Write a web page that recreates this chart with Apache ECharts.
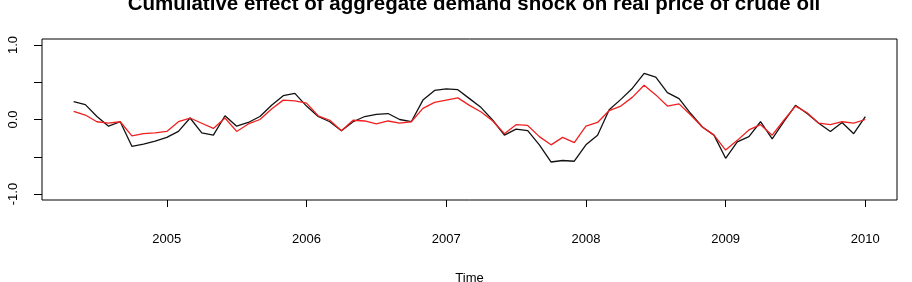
<!DOCTYPE html>
<html>
<head>
<meta charset="utf-8">
<script src="https://cdn.jsdelivr.net/npm/echarts@6/dist/echarts.min.js"></script>
<style>
  html, body { margin: 0; padding: 0; background: #fff; }
  #chart { width: 912px; height: 282px; }
</style>
</head>
<body>
<div id="chart"></div>
<script>
// monthly series, May 2004 .. Jan 2010
const startYear = 2004
const startMonth = 5
const blackData = [
  0.24, 0.20, 0.04, -0.09, -0.03, -0.36, -0.33, -0.29, -0.24, -0.16, 0.02, -0.18,
  -0.21, 0.05, -0.09, -0.04, 0.04, 0.19, 0.32, 0.35, 0.18, 0.04, -0.03, -0.15,
  -0.03, 0.04, 0.07, 0.08, 0.00, -0.03, 0.26, 0.39, 0.41, 0.40, 0.28, 0.16,
  -0.01, -0.21, -0.13, -0.15, -0.34, -0.57, -0.55, -0.56, -0.34, -0.21, 0.13, 0.27,
  0.42, 0.62, 0.57, 0.36, 0.28, 0.08, -0.10, -0.21, -0.52, -0.30, -0.23, -0.03,
  -0.26, -0.03, 0.19, 0.08, -0.05, -0.16, -0.04, -0.19, 0.04
]
const redData = [
  0.11, 0.06, -0.03, -0.05, -0.03, -0.22, -0.19, -0.18, -0.16, -0.03, 0.02, -0.05,
  -0.12, 0.02, -0.16, -0.06, 0.00, 0.14, 0.26, 0.25, 0.22, 0.05, -0.01, -0.15,
  -0.01, -0.02, -0.06, -0.02, -0.05, -0.03, 0.15, 0.23, 0.26, 0.29, 0.19, 0.10,
  -0.02, -0.19, -0.07, -0.08, -0.23, -0.34, -0.24, -0.31, -0.09, -0.04, 0.12, 0.18,
  0.30, 0.46, 0.33, 0.18, 0.21, 0.06, -0.10, -0.21, -0.41, -0.28, -0.14, -0.07,
  -0.21, -0.01, 0.18, 0.09, -0.05, -0.07, -0.03, -0.05, 0.00
]
const xTicks = [2005, 2006, 2007, 2008, 2009, 2010]
const yTicks = [-1, -0.5, 0, 0.5, 1]
const yLabels = [-1, 0, 1]

const timeAt = (i) => startYear + (startMonth - 1 + i) / 12
const blackPts = blackData.map((v, i) => [timeAt(i), v])
const redPts = redData.map((v, i) => [timeAt(i), v])

// R style 4% padding on both axes
const t0 = timeAt(0)
const t1 = timeAt(blackData.length - 1)
const xPad = (t1 - t0) * 0.04

const font = 'Liberation Sans, Arial, Helvetica, sans-serif'

const chart = echarts.init(document.getElementById('chart'))
chart.setOption({
  animation: false,
  backgroundColor: '#fff',
  title: {
    text: 'Cumulative effect of aggregate demand shock on real price of crude oil',
    left: 469,
    textAlign: 'center',
    top: -11,
    textStyle: { fontFamily: font, fontSize: 20.5, fontWeight: 'bold', color: '#000' }
  },
  grid: {
    left: 42, right: 15, top: 39, bottom: 82,
    containLabel: false, outerBoundsMode: 'none',
    show: true, borderColor: '#000', borderWidth: 1, backgroundColor: 'transparent'
  },
  xAxis: {
    type: 'value',
    min: t0 - xPad,
    max: t1 + xPad,
    name: 'Time',
    nameLocation: 'middle',
    nameGap: 72,
    nameTextStyle: { fontFamily: font, fontSize: 13, color: '#000' },
    axisLine: { show: false, onZero: false },
    splitLine: { show: false },
    axisTick: { show: true, inside: false, length: 7, customValues: xTicks, lineStyle: { color: '#000' } },
    axisLabel: {
      customValues: xTicks, margin: 33,
      fontFamily: font, fontSize: 13, color: '#000',
      formatter: (v) => String(Math.round(v))
    }
  },
  yAxis: {
    type: 'value',
    min: -1.08,
    max: 1.08,
    axisLine: { show: false, onZero: false },
    splitLine: { show: false },
    axisTick: { show: true, inside: false, length: 8, customValues: yTicks, lineStyle: { color: '#000' } },
    axisLabel: {
      customValues: yLabels, rotate: 90, margin: 22,
      fontFamily: font, fontSize: 13, color: '#000',
      formatter: (v) => v.toFixed(1)
    }
  },
  series: [
    {
      name: 'black', type: 'line', data: blackPts,
      symbol: 'none', lineStyle: { color: '#111', width: 1.3 }, z: 2
    },
    {
      name: 'red', type: 'line', data: redPts,
      symbol: 'none', lineStyle: { color: '#f02020', width: 1.3 }, z: 3
    }
  ]
})
</script>
</body>
</html>
